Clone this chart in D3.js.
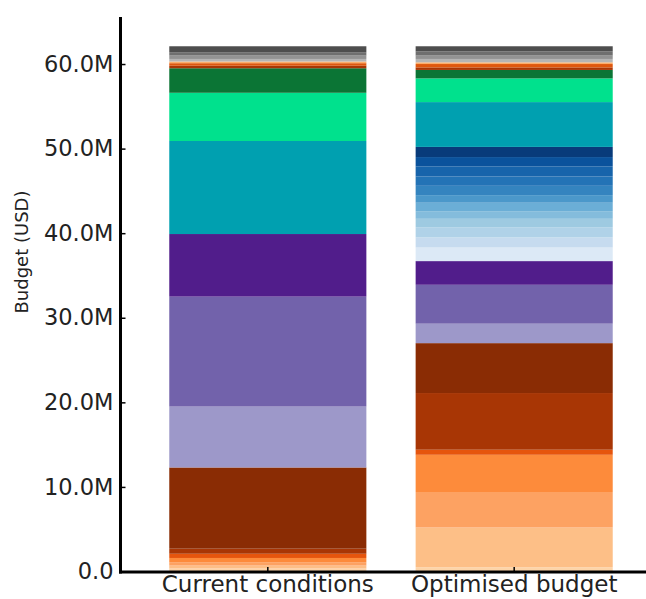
<!DOCTYPE html>
<html>
<head>
<meta charset="utf-8">
<script src="https://cdn.jsdelivr.net/npm/d3@7"></script>
<style>
  html, body { margin: 0; padding: 0; background: #fff; }
  svg { display: block; }
</style>
</head>
<body>
<svg id="chart" width="646" height="599"></svg>
<script>
// ---- data (values in millions USD, segment sizes, stacked bottom -> top) ----
const categories = ["Current conditions", "Optimised budget"];
const layers = [
  "o1","o2","o3","o4","o5","o6","o7",
  "p1","p2","p3",
  "b1","b2","b3","b4","b5","b6","b7","b8","b9","b10","b11","b12",
  "teal","green","darkgreen",
  "r1","r2","r3",
  "g1","g2","g3","g4"
];
const currentValues = [
  0.35, 0.35, 0.4, 0.5, 0.5, 0.6, 9.6,
  7.2, 13.0, 7.4,
  0, 0, 0, 0, 0, 0, 0, 0, 0, 0, 0, 0,
  11.0, 5.7, 2.9,
  0.3, 0.3, 0.2,
  0.3, 0.4, 0.4, 0.7
];
const optimisedValues = [
  0.5, 4.7, 4.2, 4.4, 0.6, 6.7, 5.9,
  2.3, 4.6, 2.8,
  1.6, 1.2, 1.2, 1.0, 0.9, 1.0, 0.9, 1.1, 1.1, 1.2, 1.1, 1.2,
  5.3, 2.8, 1.0,
  0.3, 0.4, 0.2,
  0.4, 0.4, 0.5, 0.6
];
const layerColors = [
  "#fdd4a8","#fdbf87","#fda262","#fd8b3b","#e6550d","#a83605","#8a2c04",
  "#9d98c9","#7262ab","#511d8b",
  "#dce9f6","#c6dbef","#b0d2e8","#9ecae1","#84bcdc","#6baed6","#4b98ca","#3484bf","#2373b6","#1764ab","#0a529c","#083b7a",
  "#00a0b0","#00e18d","#0b7535",
  "#a83605","#e0580e","#fdae6b",
  "#b5b5b5","#939393","#6f6f6f","#4e4e4e"
];
const yTicks = [0, 10, 20, 30, 40, 50, 60];
const yTickLabels = ["0.0", "10.0M", "20.0M", "30.0M", "40.0M", "50.0M", "60.0M"];
const yLabel = "Budget (USD)";

// ---- build table ----
const table = categories.map((c, i) => {
  const row = { category: c };
  const vals = i === 0 ? currentValues : optimisedValues;
  layers.forEach((k, j) => row[k] = vals[j]);
  return row;
});
const series = d3.stack().keys(layers)(table);

// ---- scales ----
const svg = d3.select("#chart");
const x = d3.scaleBand().domain(categories).range([120, 662]).padding(0.2);
const y = d3.scaleLinear().domain([0, 65.56]).range([571.5, 17]);
const color = d3.scaleOrdinal().domain(layers).range(layerColors);

// ---- bars ----
svg.append("g")
  .selectAll("g")
  .data(series)
  .join("g")
  .attr("fill", d => color(d.key))
  .selectAll("rect")
  .data(d => d)
  .join("rect")
  .attr("x", d => x(d.data.category))
  .attr("width", x.bandwidth())
  .attr("y", d => y(d[1]))
  .attr("height", d => Math.max(0, y(d[0]) - y(d[1])));

// ---- axes ----
const font = "'DejaVu Sans', sans-serif";
const yAxis = d3.axisLeft(y)
  .tickValues(yTicks)
  .tickFormat((d, i) => yTickLabels[i])
  .tickSizeInner(-5)
  .tickSizeOuter(0)
  .tickPadding(7);
const gy = svg.append("g").attr("transform", "translate(120.5,0)").call(yAxis);
gy.select(".domain").remove();
gy.selectAll(".tick line").attr("stroke", "#000").attr("stroke-width", 1.5);
gy.selectAll(".tick text")
  .attr("font-family", font).attr("font-size", 22.5).attr("fill", "#222");

const xAxis = d3.axisBottom(x).tickSizeInner(-5).tickSizeOuter(0).tickPadding(4);
const gx = svg.append("g").attr("transform", "translate(0,572)").call(xAxis);
gx.select(".domain").remove();
gx.selectAll(".tick line").attr("stroke", "#000").attr("stroke-width", 1.5);
gx.selectAll(".tick text")
  .attr("font-family", font).attr("font-size", 23).attr("fill", "#222")
  .attr("dy", "0.71em");

// spines
svg.append("line")
  .attr("x1", 120.5).attr("x2", 120.5)
  .attr("y1", y.range()[1]).attr("y2", 573.5)
  .attr("stroke", "#000").attr("stroke-width", 3);
svg.append("line")
  .attr("x1", 119).attr("x2", 646)
  .attr("y1", 572).attr("y2", 572)
  .attr("stroke", "#000").attr("stroke-width", 3);

// y label
svg.append("text")
  .attr("transform", "translate(28,252) rotate(-90)")
  .attr("text-anchor", "middle")
  .attr("font-family", font).attr("font-size", 18).attr("fill", "#222")
  .text(yLabel);
</script>
</body>
</html>
